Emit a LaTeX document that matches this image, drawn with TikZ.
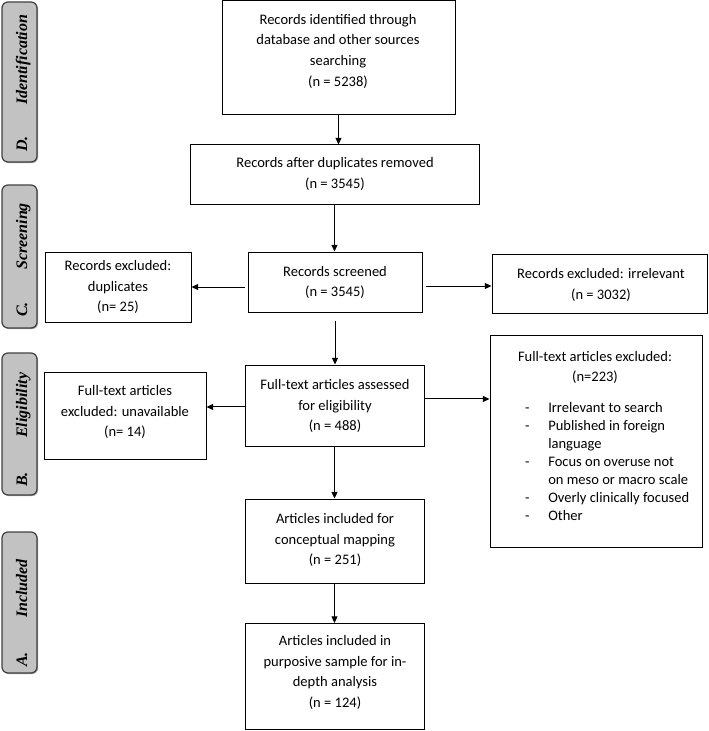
\documentclass[tikz,border=0pt]{standalone}
\usepackage{fontspec}
\setmainfont{Carlito}
\newfontfamily\sidefont{Liberation Serif}
\usetikzlibrary{arrows.meta,shadows}
\begin{document}
\begin{tikzpicture}[x=0.75pt,y=-0.75pt,
  sz/.style 2 args={minimum width=#1*0.75pt, minimum height=#2*0.75pt},
  box/.style={draw=black, line width=0.75pt, inner sep=0pt},
  txt/.style={align=center, font=\fontsize{10.9}{15.4}\selectfont, inner sep=0pt},
  bar/.style={draw=black!75, fill=black!24, rounded corners=4.5pt, line width=0.9pt, inner sep=0pt,
    drop shadow={shadow xshift=0.8pt,shadow yshift=-0.8pt,opacity=0.6,fill=black!60}},
  side/.style={font=\sidefont\bfseries\itshape\fontsize{12}{14}\selectfont, rotate=90, inner sep=0pt, anchor=base west},
  arr/.style={-{Triangle[length=5pt,width=4.5pt]}, line width=0.75pt}
]
\useasboundingbox (0,0) rectangle (709,731);

% side bars
\node[bar, sz={35}{160}] (barD) at (19.5,82) {};
\node[bar, sz={35}{143}] (barC) at (19.5,256.5) {};
\node[bar, sz={35}{142}] (barB) at (19.5,424) {};
\node[bar, sz={35}{141}] (barA) at (19.5,602.5) {};
\node[side] (lD) at (27,152) {D.};
\node[side] (wD) at (27,105) {Identification};
\node[side] (lC) at (27,317) {C.};
\node[side] (wC) at (27,270) {Screening};
\node[side] (lB) at (27,487) {B.};
\node[side] (wB) at (27,438) {Eligibility};
\node[side] (lA) at (27,667) {A.};
\node[side] (wA) at (27,618) {Included};

% boxes
\node[box, sz={233}{114}] (b1) at (338.5,58) {};
\node[box, sz={289}{59}] (b2) at (334.5,174.5) {};
\node[box, sz={174}{60}] (b3) at (335,282) {};
\node[box, sz={146}{70}] (dup) at (118,287) {};
\node[box, sz={215}{59}] (irr) at (599.5,283.5) {};
\node[box, sz={179}{81}] (b4) at (334.5,405.5) {};
\node[box, sz={162}{87}] (unav) at (125,415.5) {};
\node[box, sz={212}{212}] (excl) at (596,441) {};
\node[box, sz={179}{84}] (b5) at (334.5,541) {};
\node[box, sz={179}{106}] (b6) at (334.5,676.5) {};

% texts
\node[txt] (t1) at (338,51.2) {Records identified through\\database and other sources\\searching\\(n = 5238)};
\node[txt] (t2) at (335,174) {Records after duplicates removed\\(n = 3545)};
\node[txt] (t3) at (335,282.5) {Records screened\\(n = 3545)};
\node[txt] (tdup) at (118,287) {Records excluded:\\duplicates\\(n= 25)};
\node[txt] (tirr) at (601,285) {Records excluded: irrelevant\\(n = 3032)};
\node[txt] (t4) at (335,406) {Full-text articles assessed\\for eligibility\\(n = 488)};
\node[txt] (tunav) at (125,412) {Full-text articles\\excluded: unavailable\\(n= 14)};
\node[txt] (texcl) at (595,367.5) {Full-text articles excluded:\\(n=223)};
\node[anchor=north west, inner sep=0pt, font=\fontsize{10.9}{13.5}\selectfont] (list) at (527,400) {%
\renewcommand{\arraystretch}{1}%
\begin{tabular}{@{}l@{}}
\makebox[0pt]{-}\hspace{15.75pt}Irrelevant to search\\
\makebox[0pt]{-}\hspace{15.75pt}Published in foreign\\
\hspace{15.75pt}language\\
\makebox[0pt]{-}\hspace{15.75pt}Focus on overuse not\\
\hspace{15.75pt}on meso or macro scale\\
\makebox[0pt]{-}\hspace{15.75pt}Overly clinically focused\\
\makebox[0pt]{-}\hspace{15.75pt}Other
\end{tabular}};
\node[txt] (t5) at (335,540) {Articles included for\\conceptual mapping\\(n = 251)};
\node[txt] (t6) at (335,672.5) {Articles included in\\purposive sample for in-\\depth analysis\\(n = 124)};

% connectors
\draw[arr] (b1.south) -- (b1.south |- b2.north);
\draw[arr] (b2.south) -- (b2.south |- b3.north);
\draw[arr, shorten <=6pt] (b3.south) -- (b3.south |- b4.north);
\coordinate (c3l) at ([yshift=-3.75pt,xshift=-2.25pt]b3.west);
\coordinate (c3r) at ([yshift=-3pt,xshift=2.25pt]b3.east);
\draw[arr] (c3l) -- (c3l -| dup.east);
\draw[arr] (c3r) -- (c3r -| irr.west);
\coordinate (c4l) at ([yshift=-1.1pt]b4.west);
\coordinate (c4r) at ([yshift=4.9pt]b4.east);
\draw[arr] (c4l) -- (c4l -| unav.east);
\draw[arr] (c4r) -- (c4r -| excl.west);
\draw[arr] (b4.south) -- (b4.south |- b5.north);
\draw[arr] (b5.south) -- (b5.south |- b6.north);
\end{tikzpicture}
\end{document}
